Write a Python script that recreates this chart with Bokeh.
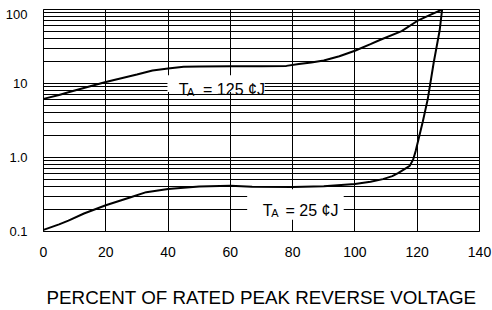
from bokeh.plotting import figure
from bokeh.models import Range1d, FixedTicker, Label
from bokeh.embed import file_html
from bokeh.resources import INLINE

# ---- data ----
x_125 = [0, 5, 8, 15, 20, 25, 30, 35, 40, 45, 50, 60, 70, 78, 82, 86, 90, 95, 100, 105, 108, 115, 120, 124, 128]
y_125 = [6.2, 7.0, 7.6, 9.2, 10.5, 11.8, 13.2, 15.0, 16.0, 16.8, 17.0, 17.1, 17.1, 17.3, 18.3, 19.2, 20.4, 23.3, 27.7, 34.0, 38.7, 51.0, 70.0, 84.0, 100.0]

x_25 = [0, 5, 8, 13, 20, 28, 33, 40, 50, 60, 67, 80, 90, 100, 105, 109, 112, 114, 117.6, 118.7, 119.5, 120.5, 121.8, 123.4, 125.3, 127.2, 128]
y_25 = [0.105, 0.125, 0.14, 0.175, 0.226, 0.29, 0.34, 0.375, 0.405, 0.416, 0.403, 0.40, 0.41, 0.437, 0.47, 0.51, 0.56, 0.62, 0.77, 0.94, 1.22, 1.82, 3.06, 6.2, 19.2, 52.0, 100.0]

x_ticks = [0, 20, 40, 60, 80, 100, 120, 140]
y_ticks = [0.1, 1, 10, 100]
y_tick_text = ["0.1", "1.0", "10", "100"]
x_title = "PERCENT OF RATED PEAK REVERSE VOLTAGE"
label_hot = "= 125 \u00a2J"
label_cold = "= 25 \u00a2J"

FONT = "Liberation Sans"

p = figure(width=492, height=310, x_range=Range1d(0, 140), y_range=Range1d(0.1, 100),
           y_axis_type="log", output_backend="svg", toolbar_location=None,
           min_border_left=43, min_border_right=13, min_border_top=9, min_border_bottom=75)
p.background_fill_color = "white"
p.border_fill_color = "white"
p.outline_line_color = "black"
p.outline_line_width = 1

# the top tick label hangs just below the frame edge, as in the original
drop = 10 ** (5 / 75.33)
label_pos = list(y_ticks[:-1]) + [y_ticks[-1] / drop]
p.yaxis.ticker = FixedTicker(ticks=label_pos)
p.yaxis.major_label_overrides = dict(zip(label_pos, y_tick_text))

minor = [m * d for d in (0.1, 1, 10) for m in range(2, 10)]
p.ygrid.ticker = FixedTicker(ticks=y_ticks, minor_ticks=minor)
p.xaxis.ticker = FixedTicker(ticks=x_ticks)

for ax in (p.xaxis, p.yaxis):
    ax.major_tick_line_color = None
    ax.minor_tick_line_color = None
    ax.axis_line_color = "black"
    ax.major_label_text_font = FONT
    ax.major_label_text_color = "black"

p.xaxis.major_label_text_font_size = "14px"
p.yaxis.major_label_text_font_size = "13px"
p.xaxis.major_label_standoff = 9
p.yaxis.major_label_standoff = 10

p.xaxis.axis_label = x_title
p.xaxis.axis_label_text_font = FONT
p.xaxis.axis_label_text_font_style = "normal"
p.xaxis.axis_label_text_font_size = "18.8px"
p.xaxis.axis_label_text_color = "black"
p.xaxis.axis_label_standoff = 27

p.xgrid.grid_line_color = "black"
p.xgrid.grid_line_width = 1
p.ygrid.grid_line_color = "black"
p.ygrid.grid_line_width = 1
p.ygrid.minor_grid_line_color = "black"
p.ygrid.minor_grid_line_width = 1

# white backgrounds behind the temperature labels
p.quad(left=[39.8, 65.4], right=[71.0, 96.4], top=[12.9, 0.372], bottom=[7.67, 0.144],
       fill_color="white", line_color=None)

p.line(x_125, y_125, line_color="black", line_width=2)
p.line(x_25, y_25, line_color="black", line_width=2)

def temp_label(x, y, rest, dx_rest):
    p.add_layout(Label(x=x, y=y, text="T", text_font=FONT, text_font_size="16px",
                       text_baseline="alphabetic", text_color="black"))
    p.add_layout(Label(x=x, y=y, x_offset=8.4, y_offset=-2.5, text="A", text_font=FONT,
                       text_font_size="11px", text_baseline="alphabetic", text_color="black"))
    p.add_layout(Label(x=x, y=y, x_offset=dx_rest, text=rest, text_font=FONT,
                       text_font_size="16px", text_baseline="alphabetic", text_color="black"))

temp_label(43.4, 8.4, label_hot, 24.4)
temp_label(70.4, 0.194, label_cold, 22.7)

open("out.html", "w").write(file_html(p, INLINE))
